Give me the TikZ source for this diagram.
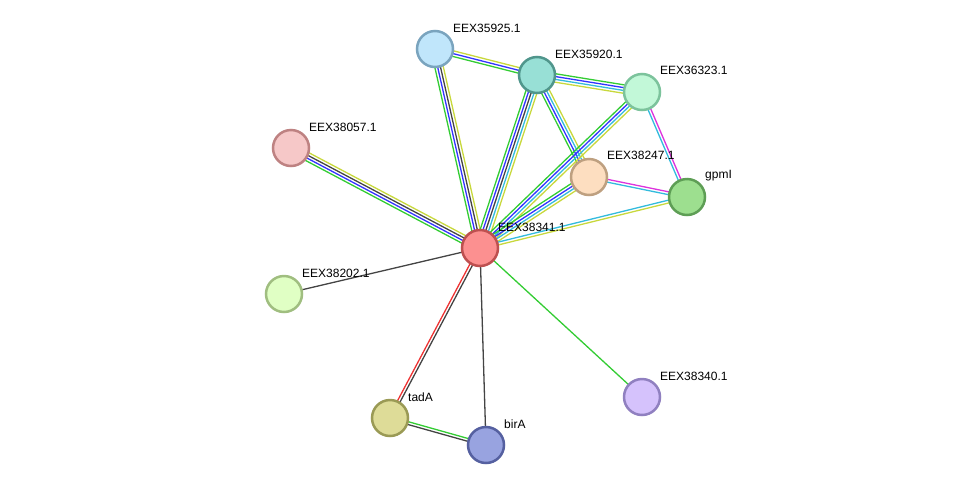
\documentclass[tikz,border=0pt]{standalone}
\usepackage{fontspec}
\setmainfont{Liberation Sans}
\usetikzlibrary{calc,backgrounds}
\definecolor{eg}{HTML}{33CC33}
\definecolor{eb}{HTML}{3333FF}
\definecolor{ek}{HTML}{444444}
\definecolor{ey}{HTML}{C8D83C}
\definecolor{ec}{HTML}{33BBDD}
\definecolor{em}{HTML}{DD33DD}
\definecolor{er}{HTML}{EE3333}
\tikzset{
  prot/.style={circle,minimum size=36pt,inner sep=0pt,line width=2.5pt},
  lbl/.style={anchor=west,inner sep=0pt,font=\fontsize{12pt}{14pt}\selectfont,text=black},
  eline/.style={line width=1.3pt}
}
\newcommand\mline[4]{\draw[eline,#4] ($(#1.center)!#3!90:(#2.center)$) -- ($(#2.center)!#3!-90:(#1.center)$);}
\begin{document}
\begin{tikzpicture}[x=1pt,y=-1pt]
\useasboundingbox (0,0) rectangle (975,491);
% nodes
\node[prot,fill={rgb,255:red,192;green,230;blue,251},draw={rgb,255:red,122;green,164;blue,190}] (n35925) at (435,49) {};
\node[prot,fill={rgb,255:red,152;green,224;blue,214},draw={rgb,255:red,80;green,150;blue,140}] (n35920) at (537,75) {};
\node[prot,fill={rgb,255:red,194;green,248;blue,216},draw={rgb,255:red,124;green,195;blue,156}] (n36323) at (642,92) {};
\node[prot,fill={rgb,255:red,246;green,200;blue,200},draw={rgb,255:red,190;green,130;blue,130}] (n38057) at (291,148) {};
\node[prot,fill={rgb,255:red,253;green,222;blue,192},draw={rgb,255:red,190;green,160;blue,128}] (n38247) at (589,177) {};
\node[prot,fill={rgb,255:red,157;green,223;blue,143},draw={rgb,255:red,94;green,158;blue,85}] (gpmI) at (687,197) {};
\node[prot,fill={rgb,255:red,252;green,144;blue,144},draw={rgb,255:red,190;green,80;blue,80}] (n38341) at (480,248) {};
\node[prot,fill={rgb,255:red,224;green,255;blue,196},draw={rgb,255:red,160;green,190;blue,128}] (n38202) at (284,294) {};
\node[prot,fill={rgb,255:red,213;green,194;blue,252},draw={rgb,255:red,144;green,128;blue,192}] (n38340) at (642,397) {};
\node[prot,fill={rgb,255:red,222;green,220;blue,152},draw={rgb,255:red,154;green,154;blue,85}] (tadA) at (390,418) {};
\node[prot,fill={rgb,255:red,152;green,163;blue,224},draw={rgb,255:red,85;green,96;blue,160}] (birA) at (486,445) {};
% labels
\node[lbl] (l35925) at (453,28) {EEX35925.1};
\node[lbl] (l35920) at (555,54) {EEX35920.1};
\node[lbl] (l36323) at (660,70) {EEX36323.1};
\node[lbl] (l38057) at (309,127) {EEX38057.1};
\node[lbl] (l38247) at (607,155) {EEX38247.1};
\node[lbl] (lgpmI) at (705,176) {gpmI};
\node[lbl] (l38341) at (498,227) {EEX38341.1};
\node[lbl] (l38202) at (302,273) {EEX38202.1};
\node[lbl] (l38340) at (660,376) {EEX38340.1};
\node[lbl] (ltadA) at (408,397) {tadA};
\node[lbl] (lbirA) at (504,424) {birA};
% edges
\begin{scope}[on background layer]
\mline{n35925}{n35920}{2.8pt}{ey}\mline{n35925}{n35920}{0pt}{eb}\mline{n35925}{n35920}{-2.8pt}{eg}
\mline{n35925}{n38341}{-4.2pt}{eg}\mline{n35925}{n38341}{-1.4pt}{eb}\mline{n35925}{n38341}{1.4pt}{ek}\mline{n35925}{n38341}{4.2pt}{ey}
\mline{n35920}{n36323}{4.2pt}{eg}\mline{n35920}{n36323}{1.4pt}{eb}\mline{n35920}{n36323}{-1.4pt}{ec}\mline{n35920}{n36323}{-4.2pt}{ey}
\mline{n35920}{n38341}{-5.6pt}{eg}\mline{n35920}{n38341}{-2.8pt}{eb}\mline{n35920}{n38341}{0pt}{ek}\mline{n35920}{n38341}{2.8pt}{ec}\mline{n35920}{n38341}{5.6pt}{ey}
\mline{n35920}{n38247}{-4.2pt}{eg}\mline{n35920}{n38247}{-1.4pt}{eb}\mline{n35920}{n38247}{1.4pt}{ec}\mline{n35920}{n38247}{4.2pt}{ey}
\mline{n38341}{n36323}{4.2pt}{eg}\mline{n38341}{n36323}{1.4pt}{eb}\mline{n38341}{n36323}{-1.4pt}{ec}\mline{n38341}{n36323}{-4.2pt}{ey}
\mline{n38341}{n38247}{4.2pt}{eg}\mline{n38341}{n38247}{1.4pt}{eb}\mline{n38341}{n38247}{-1.4pt}{ec}\mline{n38341}{n38247}{-4.2pt}{ey}
\mline{n36323}{gpmI}{-1.4pt}{ec}\mline{n36323}{gpmI}{1.4pt}{em}
\mline{n38247}{gpmI}{1.4pt}{em}\mline{n38247}{gpmI}{-1.4pt}{ec}
\mline{n38341}{gpmI}{1.4pt}{ec}\mline{n38341}{gpmI}{-1.4pt}{ey}
\mline{n38057}{n38341}{4.2pt}{ey}\mline{n38057}{n38341}{1.4pt}{ek}\mline{n38057}{n38341}{-1.4pt}{eb}\mline{n38057}{n38341}{-4.2pt}{eg}
\mline{n38202}{n38341}{0pt}{ek}
\mline{n38341}{tadA}{1.4pt}{ek}\mline{n38341}{tadA}{-1.4pt}{er}
\mline{n38341}{birA}{0pt}{ek}
\mline{n38341}{n38340}{0pt}{eg}
\mline{tadA}{birA}{1.4pt}{eg}\mline{tadA}{birA}{-1.4pt}{ek}
\end{scope}
\end{tikzpicture}
\end{document}
